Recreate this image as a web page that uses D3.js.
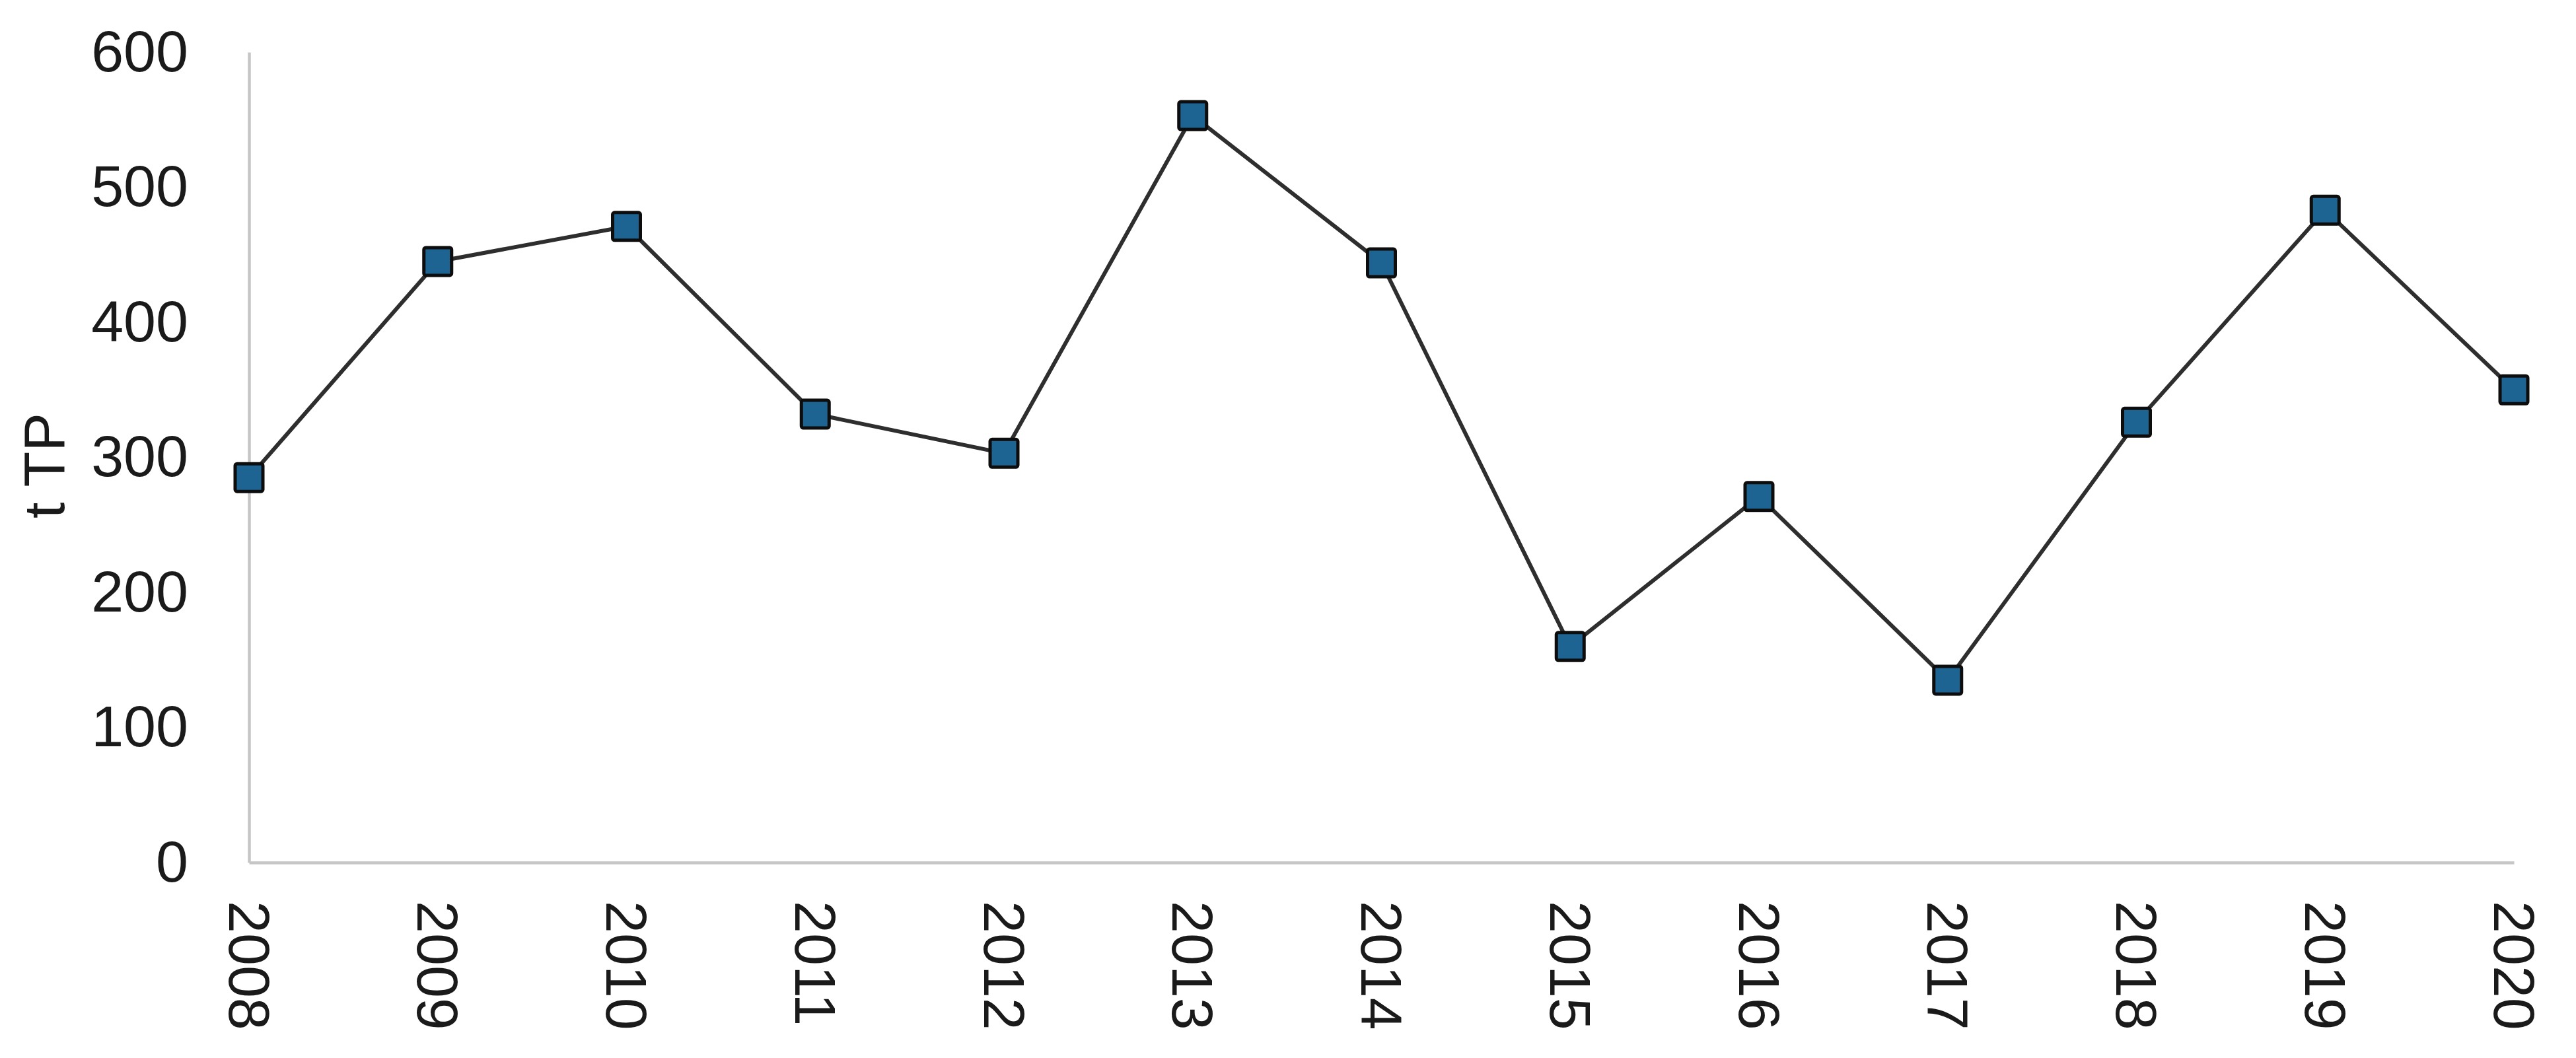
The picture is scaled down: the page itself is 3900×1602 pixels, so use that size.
<!DOCTYPE html>
<html>
<head>
<meta charset="utf-8">
<script src="https://cdn.jsdelivr.net/npm/d3@7"></script>
<style>
  html, body { margin: 0; padding: 0; background: #ffffff; }
  svg { display: block; }
  text { font-family: "Liberation Sans", Arial, sans-serif; fill: #1a1a1a; }
</style>
</head>
<body>
<script>
const years = ["2008","2009","2010","2011","2012","2013","2014","2015","2016","2017","2018","2019","2020"];
const values = [285, 445, 471, 332, 303, 553, 444, 160, 271, 135, 326, 483, 350];
const yTicks = [0, 100, 200, 300, 400, 500, 600];
const yTitle = "t TP";

const W = 3900, H = 1602;
const svg = d3.select("body").append("svg").attr("width", W).attr("height", H);

const x = d3.scalePoint().domain(years).range([377, 3806]);
const y = d3.scaleLinear().domain([0, 600]).range([1306, 79]);
const FS = 88;

// axes
const yAxis = svg.append("g").attr("transform", `translate(${x(years[0])},0)`)
  .call(d3.axisLeft(y).tickValues(yTicks).tickSize(0).tickPadding(92).tickFormat(d3.format("d")));
yAxis.select(".domain").attr("stroke", "#c6c6c6").attr("stroke-width", 4.5);
yAxis.selectAll("text").attr("font-size", FS).attr("fill", "#1a1a1a")
  .attr("font-family", "Liberation Sans, Arial, sans-serif");

const xAxis = svg.append("g").attr("transform", `translate(0,${y(0)})`)
  .call(d3.axisBottom(x).tickSize(0).tickPadding(0));
xAxis.select(".domain").attr("stroke", "#c6c6c6").attr("stroke-width", 4.5);
xAxis.selectAll("text")
  .attr("font-size", FS).attr("fill", "#1a1a1a")
  .attr("font-family", "Liberation Sans, Arial, sans-serif")
  .attr("text-anchor", "start")
  .attr("y", 0).attr("dy", "0.35em")
  .attr("transform", "translate(0,58) rotate(90)");

// title
svg.append("text")
  .attr("transform", "translate(97,705) rotate(-90)")
  .attr("text-anchor", "middle")
  .attr("font-size", FS)
  .text(yTitle);

// line
const data = years.map((yr, i) => ({ yr, v: values[i] }));
svg.append("path").datum(data)
  .attr("fill", "none").attr("stroke", "#2e2e2e").attr("stroke-width", 6)
  .attr("d", d3.line().x(d => x(d.yr)).y(d => y(d.v)));

// markers
const S = 42;
svg.selectAll("rect.m").data(data).enter().append("rect")
  .attr("class", "m")
  .attr("x", d => x(d.yr) - S / 2).attr("y", d => y(d.v) - S / 2)
  .attr("width", S).attr("height", S).attr("rx", 3)
  .attr("fill", "#1d6492").attr("stroke", "#0d0d0d").attr("stroke-width", 5);
</script>
</body>
</html>
